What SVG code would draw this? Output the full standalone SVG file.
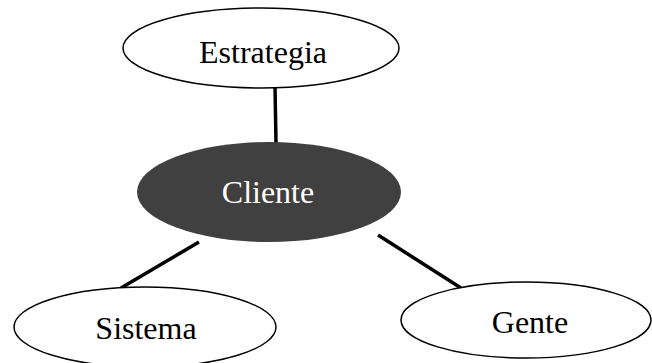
<svg xmlns="http://www.w3.org/2000/svg" width="652" height="363" viewBox="0 0 652 363">
<style>
.node{fill:#fff;stroke:#000;stroke-width:1.5}
.dark{fill:#404040;stroke:none}
.lbl{font-family:"Liberation Serif","Times New Roman",serif;font-size:32px;text-anchor:middle;fill:#000}
.wl{fill:#fff}
.conn line{stroke:#000;stroke-width:3.5}
</style>
<rect width="652" height="363" fill="#fff"/>
<g id="connectors" class="conn">
<line x1="275" y1="86" x2="276" y2="143"/>
<line x1="199" y1="242" x2="121" y2="288"/>
<line x1="378" y1="235" x2="461" y2="288"/>
</g>
<g id="estrategia">
<ellipse class="node" cx="261" cy="48" rx="138" ry="40"/>
<text class="lbl" x="263" y="63">Estrategia</text>
</g>
<g id="cliente">
<ellipse class="dark" cx="269" cy="192" rx="132" ry="50"/>
<text class="lbl wl" x="268" y="203">Cliente</text>
</g>
<g id="sistema">
<ellipse class="node" cx="145" cy="327" rx="131" ry="40"/>
<text class="lbl" x="146" y="339">Sistema</text>
</g>
<g id="gente">
<ellipse class="node" cx="526" cy="320" rx="125" ry="38"/>
<text class="lbl" x="530" y="333">Gente</text>
</g>
</svg>
